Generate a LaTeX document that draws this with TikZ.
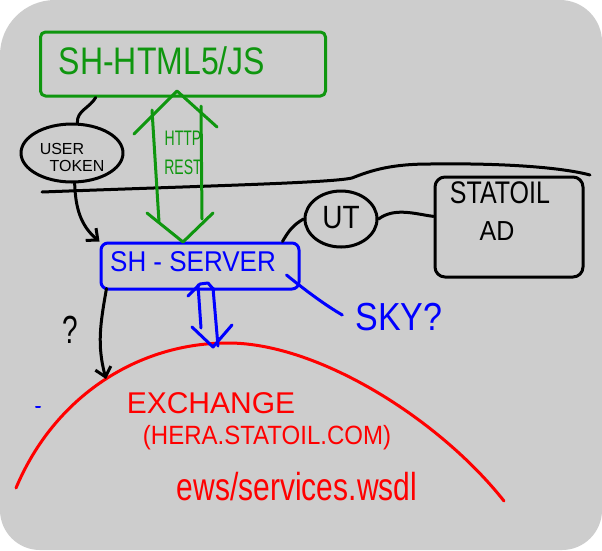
\documentclass[tikz,border=0pt]{standalone}
\usepackage{fontspec}
\setmainfont{Liberation Sans}
\usetikzlibrary{arrows.meta,calc,shapes.geometric}
\definecolor{bgc}{RGB}{205,205,205}
\definecolor{hgreen}{RGB}{15,150,15}
\definecolor{hblue}{RGB}{0,0,255}
\definecolor{hred}{RGB}{255,0,0}
\newcommand{\fsz}[1]{\fontsize{#1}{#1}\selectfont}
\newcommand{\tall}[2]{\scalebox{1}[#1]{#2}}
\begin{document}
\begin{tikzpicture}[x=1pt,y=-1pt,line cap=round,line join=round,
  pen/.style={line width=3pt},
  blk/.style={pen,draw=black},
  grn/.style={pen,draw=hgreen},
  blu/.style={pen,draw=hblue},
  barb/.style={-{Straight Barb[length=9pt,width=16pt,line width=3pt]}},
  gbox/.style={grn,rounded corners=5pt,minimum width=285pt,minimum height=64pt,inner sep=0pt},
  bbox/.style={blu,rounded corners=7pt,minimum width=198pt,minimum height=46pt,inner sep=0pt},
  kbox/.style={blk,rounded corners=10pt,minimum width=148pt,minimum height=100pt,inner sep=0pt},
  oval/.style={blk,ellipse,inner sep=0pt},
  txt/.style={inner sep=0pt,align=center}]
\useasboundingbox (0,0) rectangle (602,550);
\fill[white] (0,0) rectangle (602,550);
\fill[bgc,rounded corners=55pt] (0,300) -- (0,0) -- (300,0) [rounded corners=42pt] -- (602,0) -- (602,300) [rounded corners=40pt] -- (602,550) -- (0,550) -- cycle;

% separator line
\draw[blk] (42,192) .. controls (200,186) and (330,183) .. (352,178) .. controls (372,170) and (392,164) .. (430,164) .. controls (500,163) and (560,167) .. (590,175);

% red arc
\draw[pen,draw=hred] (16,488) .. controls (55,395) and (140,342) .. (230,343) .. controls (320,344) and (440,420) .. (504,501);
\coordinate (exch) at (106,379);

% nodes
\node[gbox] (html) at (183,64) {};
\node[txt,text=hgreen,font=\fsz{32}] (htmltxt) at (162,61) {\tall{1.2}{SH-HTML5/JS}};
\node[oval,minimum width=102pt,minimum height=58pt] (tok) at (72,153) {};
\node[txt,font=\fsz{16}] (toktxt1) at (62,149) {USER};
\node[txt,font=\fsz{16}] (toktxt2) at (77,166) {TOKEN};
\node[txt,text=hgreen,font=\fsz{14}] (http) at (183,153) {\tall{1.5}{HTTP}\\[14pt]\tall{1.5}{REST}};
\node[bbox] (srv) at (200,266) {};
\node[txt,text=hblue,font=\fsz{26}] (srvtxt) at (193,262) {\tall{1.1}{SH - SERVER}};
\node[oval,minimum width=72pt,minimum height=56pt] (ut) at (341,219) {};
\node[txt,font=\fsz{28}] (uttxt) at (341,218) {\tall{1.15}{UT}};
\node[kbox] (ad) at (509,227) {};
\node[txt,font=\fsz{25}] (adtxt1) at (500,193) {\tall{1.25}{STATOIL}};
\node[txt,font=\fsz{25}] (adtxt2) at (497,231) {\tall{1.1}{AD}};
\node[txt,text=hblue,font=\fsz{34}] (sky) at (399,317) {\tall{1.15}{SKY?}};
\node[txt,font=\fsz{28}] (q) at (70,330) {\tall{1.4}{?}};
\node[txt,text=hred,font=\fsz{30}] (ex1) at (211,403) {EXCHANGE};
\node[txt,text=hred,font=\fsz{24}] (ex2) at (267,438) {\tall{1.1}{(HERA.STATOIL.COM)}};
\node[txt,text=hred,font=\fsz{30}] (ex3) at (297,487) {\tall{1.3}{ews/services.wsdl}};

% green fat double arrow
\draw[grn] (134,134) -- (177,91) -- (217,127);
\draw[grn] (152,110) -- (159,222);
\draw[grn] (201,106) -- (202,219);
\draw[grn] (147,213) -- (183,242) -- (213,213);

% blue double arrow
\draw[blu] (188,296) -- (200,284) -- (208,283) -- (214,290);
\draw[blu] (198,285) -- (201,328);
\draw[blu] (213,288) -- (218,346);
\draw[blu] (192,327) -- (213,347) -- (232,325);

% connectors
\draw[blk] (tok.80) to[out=92,in=-120] (html.-159);
\draw[blk,barb] (tok.-85) to[out=-88,in=140] (srv.north west);
\draw[blk] (ut.west) to[out=-150,in=60] ($(srv.north east)+(-18,0)$);
\draw[blk] (ut.east) .. controls (395,207) and (415,214) .. (ad.172);
\draw[blu] ($(srv.east)+(-14,9)$) .. controls (305,290) and (325,305) .. ($(sky.west)+(-13,-2)$);
\draw[blk,barb] ($(srv.south west)+(7,-2)$) to[out=-100,in=105] (exch);

% stray blue mark
\draw[pen,draw=hblue,line width=2pt] (36,407) -- (40,407);
\end{tikzpicture}
\end{document}
